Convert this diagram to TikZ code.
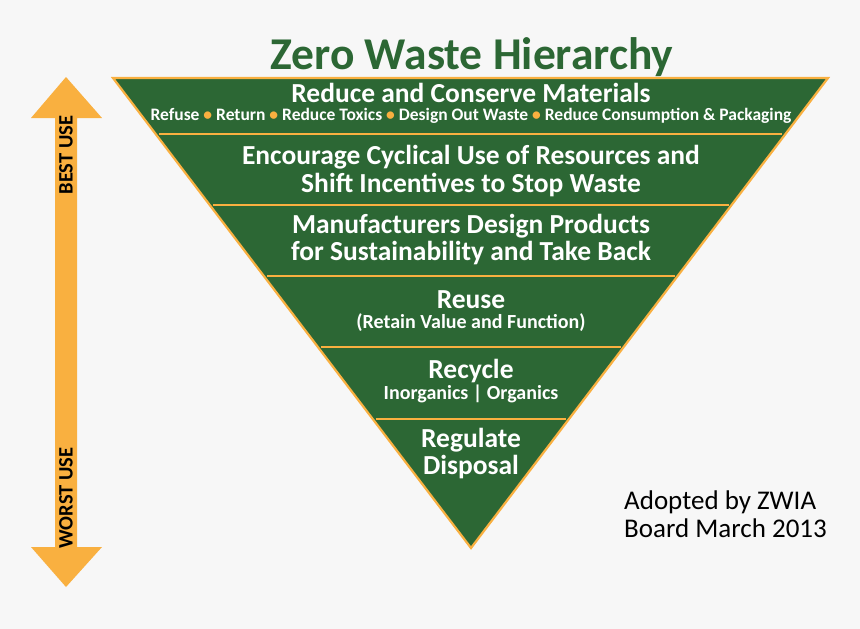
\documentclass[tikz,border=0pt]{standalone}
\usepackage{fontspec}
\setmainfont{Carlito}
\usetikzlibrary{calc}
\definecolor{bgc}{HTML}{F7F7F7}
\definecolor{zgreen}{HTML}{2C6734}
\definecolor{zorange}{HTML}{F9B040}
\tikzset{
  big/.style={text=white, font=\bfseries\fontsize{27.5}{30}\selectfont, align=center, inner sep=0pt},
  small/.style={text=white, font=\bfseries\fontsize{20}{22}\selectfont, align=center, inner sep=0pt},
  tiny/.style={text=white, font=\bfseries\fontsize{17.5}{20}\selectfont, align=center, inner sep=0pt},
  sep/.style={draw=zorange, line width=2.2pt, shorten <=3pt, shorten >=3pt},
  side/.style={text=black, font=\bfseries\fontsize{20.5}{22}\selectfont, rotate=90, inner sep=0pt}
}
\newcommand{\dotb}{ {\color{zorange}\textbullet} }
\begin{document}
\begin{tikzpicture}[x=1pt,y=-1pt]
\fill[bgc] (0,0) rectangle (860,629);
\useasboundingbox (0,0) rectangle (860,629);
% triangle
\coordinate (TL) at (113,78);
\coordinate (TR) at (828,78);
\coordinate (A) at (471,548);
\filldraw[fill=zgreen, draw=zorange, line width=2.2pt, line join=miter] (TL) -- (TR) -- (A) -- cycle;
\foreach \t [count=\i] in {0.1191,0.2702,0.4213,0.5723,0.7255}{
  \coordinate (L\i) at ($(TL)!\t!(A)$);
  \coordinate (R\i) at ($(TR)!\t!(A)$);
  \draw[sep] (L\i) -- (R\i);
}
% title
\node[text=zgreen, font=\bfseries\fontsize{45.5}{48}\selectfont, inner sep=0pt] (title) at (472,57) {Zero Waste Hierarchy};
% band texts
\node[big] (b1) at (471,93) {Reduce and Conserve Materials};
\node[tiny] (b1s) at (471,116) {Refuse\dotb Return\dotb Reduce Toxics\dotb Design Out Waste\dotb Reduce Consumption \& Packaging};
\node[big] (b2a) at (471,157) {Encourage Cyclical Use of Resources and};
\node[big] (b2b) at (471,185) {Shift Incentives to Stop Waste};
\node[big] (b3a) at (471,226) {Manufacturers Design Products};
\node[big] (b3b) at (471,253) {for Sustainability and Take Back};
\node[big] (b4) at (471,300) {Reuse};
\node[small] (b4s) at (471,323) {(Retain Value and Function)};
\node[big] (b5) at (471,371) {Recycle};
\node[small] (b5s) at (471,394) {Inorganics | Organics};
\node[big] (b6a) at (471,440) {Regulate};
\node[big] (b6b) at (471,467) {Disposal};
% note
\node[anchor=west, align=left, text=black, font=\fontsize{27}{28}\selectfont, inner sep=0pt] (note) at (624,514) {Adopted by ZWIA\\Board March 2013};
% arrow
\fill[zorange] (66,77) -- (102,118) -- (77,118) -- (77,547) -- (102,547) -- (66,587) -- (31,547) -- (55,547) -- (55,118) -- (31,118) -- cycle;
\node[side] (best) at (66,155) {BEST USE};
\node[side] (worst) at (66,498) {WORST USE};
\end{tikzpicture}
\end{document}
